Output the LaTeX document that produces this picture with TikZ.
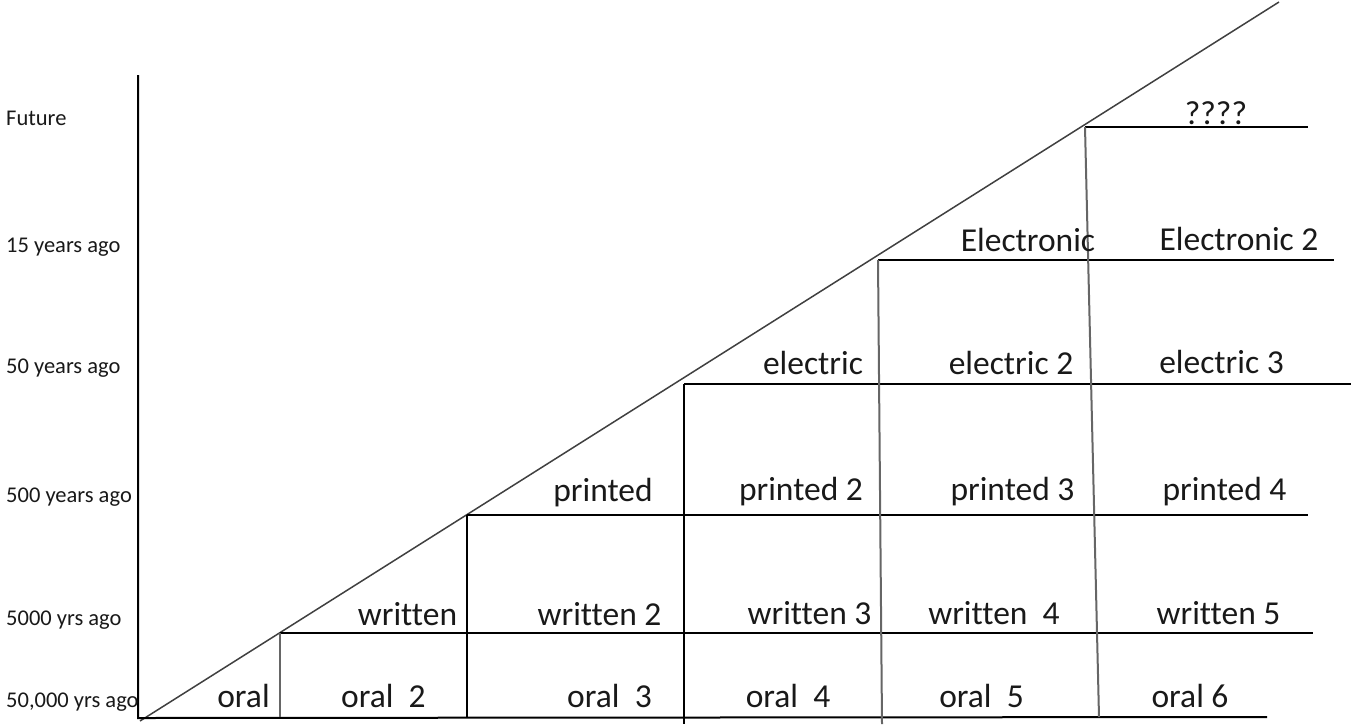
\documentclass[tikz,border=0pt]{standalone}
\usepackage{fontspec}
\setmainfont[Ligatures=NoCommon]{Carlito}
\begin{document}
\begin{tikzpicture}[x=1pt,y=-1pt,
  grid/.style={line width=2pt, black},
  faint/.style={line width=2pt, black!60},
  diag/.style={line width=1.5pt, black!75},
  cell/.style={font=\fontsize{33.5}{38}\selectfont, text=black!90, anchor=base, inner sep=0pt},
  axislbl/.style={font=\fontsize{22.5}{26}\selectfont, text=black!90, anchor=base west, inner sep=0pt}]
\useasboundingbox (0,0) rectangle (1351,724);
% coordinates
\coordinate (o) at (140,721);
\coordinate (top) at (1279,2);
\coordinate (axT) at (138,75);
\coordinate (axB) at (138,718);
\coordinate (botR) at (1267,717);
\coordinate (h1a) at (280,633); \coordinate (h1b) at (1313,633);
\coordinate (h2a) at (467,515); \coordinate (h2b) at (1308,515);
\coordinate (h3a) at (684,384); \coordinate (h3b) at (1351,384);
\coordinate (h4a) at (878,260); \coordinate (h4b) at (1334,260);
\coordinate (h5a) at (1085,127); \coordinate (h5b) at (1308,127);
\coordinate (v1b) at (280,717);
\coordinate (v2b) at (467,717);
\coordinate (v3b) at (684,724);
\coordinate (v4b) at (882,724);
\coordinate (v5b) at (1099,717);
% lines
\draw[diag] (o) -- (top);
\draw[grid] (axT) -- (axB) -- (botR);
\draw[grid] (h1a) -- (h1b);
\draw[grid] (h2a) -- (h2b);
\draw[grid] (h3a) -- (h3b);
\draw[grid] (h4a) -- (h4b);
\draw[grid] (h5a) -- (h5b);
\draw[faint] (h1a) -- (v1b);
\draw[grid] (h2a) -- (v2b);
\draw[grid] (h3a) -- (v3b);
\draw[faint] (h4a) -- (v4b);
\draw[faint] (h5a) -- (v5b);
% axis labels
\node[axislbl] (fut) at (6,125) {Future};
\node[axislbl] (y15) at (6,252) {15 years ago};
\node[axislbl] (y50) at (6,373) {50 years ago};
\node[axislbl] (y500) at (6,502) {500 years ago};
\node[axislbl] (y5000) at (6,625) {5000 yrs ago};
\node[axislbl] (y50000) at (6,707) {50,000 yrs ago};
% cells
\node[cell] (o1) at (243.5,707) {oral};
\node[cell] (o2) at (383.5,707) {oral~~2};
\node[cell] (o3) at (609.5,707) {oral~~3};
\node[cell] (o4) at (788,707) {oral~~4};
\node[cell] (o5) at (981.5,707) {oral~~5};
\node[cell] (o6) at (1190,707) {oral 6};
\node[cell] (w1) at (407.5,625) {written};
\node[cell] (w2) at (599.5,625) {written 2};
\node[cell] (w3) at (809.5,624) {written 3};
\node[cell] (w4) at (994,624) {written~~4};
\node[cell] (w5) at (1218.5,624) {written 5};
\node[cell] (p1) at (603,501) {printed};
\node[cell] (p2) at (801,500) {printed 2};
\node[cell] (p3) at (1012.5,500) {printed 3};
\node[cell] (p4) at (1224.5,500) {printed 4};
\node[cell] (e1) at (813,374) {electric};
\node[cell] (e2) at (1011,374) {electric 2};
\node[cell] (e3) at (1221.5,373) {electric 3};
\node[cell] (n1) at (1028,251) {Electronic};
\node[cell] (n2) at (1239,250) {Electronic 2};
\node[cell] (q) at (1216,124) {????};
\end{tikzpicture}
\end{document}
